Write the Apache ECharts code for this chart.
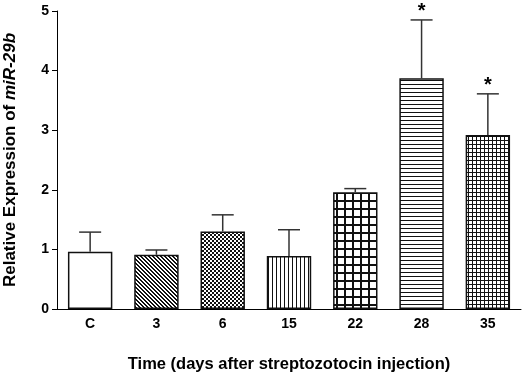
<!DOCTYPE html>
<html>
<head>
<meta charset="utf-8">
<script src="https://cdn.jsdelivr.net/npm/echarts@6/dist/echarts.min.js"></script>
<style>html,body{margin:0;padding:0;background:#fff}#chart{width:530px;height:378px}</style>
</head>
<body>
<div id="chart"></div>
<script>
const categories = ['C', '3', '6', '15', '22', '28', '35'];
const means = [0.96, 0.91, 1.30, 0.89, 1.96, 3.87, 2.92];
const upper = [1.29, 0.99, 1.58, 1.33, 2.02, 4.85, 3.61];
const significant = [false, false, false, false, false, true, true];
const yTicks = [0, 1, 2, 3, 4, 5];

function makePattern(size, draw) {
  const c = document.createElement('canvas');
  c.width = size; c.height = size;
  const ctx = c.getContext('2d');
  ctx.fillStyle = '#fff';
  ctx.fillRect(0, 0, size, size);
  ctx.fillStyle = '#111';
  draw(ctx, size);
  return { image: c, repeat: 'repeat' };
}
const patterns = [
  '#ffffff',
  makePattern(4, (ctx, s) => { for (let i = 0; i < s; i++) { ctx.fillRect(i, i, 1, 1); ctx.fillRect((i + 1) % s, i, 1, 1); } }),
  makePattern(4, (ctx) => { ctx.fillRect(0, 0, 2, 2); ctx.fillRect(2, 2, 2, 2); }),
  makePattern(4, (ctx) => { ctx.fillRect(0, 0, 1, 4); }),
  makePattern(8, (ctx) => { ctx.fillRect(0, 0, 2, 8); ctx.fillRect(0, 0, 8, 2); }),
  makePattern(4, (ctx) => { ctx.fillRect(0, 0, 4, 1); }),
  makePattern(4, (ctx) => { ctx.fillRect(0, 0, 1, 4); ctx.fillRect(0, 0, 4, 1); })
];

const chart = echarts.init(document.getElementById('chart'), null, { renderer: 'canvas' });
const font = '"Liberation Sans", Arial, sans-serif';
chart.setOption({
  animation: false,
  grid: { left: 57, right: 9, top: 11, bottom: 69, containLabel: false, outerBoundsMode: 'none' },
  xAxis: {
    type: 'category',
    data: categories,
    name: 'Time (days after streptozotocin injection)',
    nameLocation: 'middle',
    nameGap: 47,
    nameTextStyle: { fontFamily: font, fontWeight: 'bold', fontSize: 16.5, color: '#000' },
    axisLine: { lineStyle: { color: '#000', width: 1 } },
    axisTick: { alignWithLabel: true, length: 5, lineStyle: { color: '#000' } },
    axisLabel: { fontFamily: font, fontWeight: 'bold', fontSize: 14, color: '#000', margin: 8 }
  },
  yAxis: {
    type: 'value',
    min: yTicks[0],
    max: yTicks[yTicks.length - 1],
    interval: 1,
    name: '{n|Relative Expression of }{i|miR-29b}',
    nameLocation: 'middle',
    nameRotate: 90,
    nameGap: 38,
    nameTextStyle: {
      rich: {
        n: { fontFamily: font, fontWeight: 'bold', fontSize: 17, color: '#000' },
        i: { fontFamily: font, fontWeight: 'bold', fontStyle: 'italic', fontSize: 17, color: '#000' }
      }
    },
    axisLine: { show: true, lineStyle: { color: '#000', width: 1 } },
    axisTick: { show: true, length: 5, lineStyle: { color: '#000' } },
    splitLine: { show: false },
    axisLabel: { fontFamily: font, fontWeight: 'bold', fontSize: 14, color: '#000', margin: 8 }
  },
  series: [
    {
      type: 'bar',
      barCategoryGap: '33%',
      data: means.map((v, i) => ({ value: v, itemStyle: { color: patterns[i] } })),
      itemStyle: { borderColor: '#111', borderWidth: 1.5 },
      z: 2
    },
    {
      type: 'custom',
      z: 5,
      data: means.map((m, i) => [i, m, upper[i], significant[i] ? 1 : 0]),
      renderItem: function (params, api) {
        const base = api.coord([api.value(0), api.value(1)]);
        const top = api.coord([api.value(0), api.value(2)]);
        const hw = 11;
        const children = [
          { type: 'line', shape: { x1: base[0], y1: base[1], x2: top[0], y2: top[1] }, style: { stroke: '#333', lineWidth: 1.5 } },
          { type: 'line', shape: { x1: top[0] - hw, y1: top[1], x2: top[0] + hw, y2: top[1] }, style: { stroke: '#333', lineWidth: 1.5 } }
        ];
        if (api.value(3)) {
          children.push({ type: 'text', style: { text: '*', x: top[0], y: top[1] + 2, align: 'center', verticalAlign: 'bottom', fontFamily: font, fontWeight: 'bold', fontSize: 20, fill: '#000' } });
        }
        return { type: 'group', children: children };
      }
    }
  ]
});
</script>
</body>
</html>
